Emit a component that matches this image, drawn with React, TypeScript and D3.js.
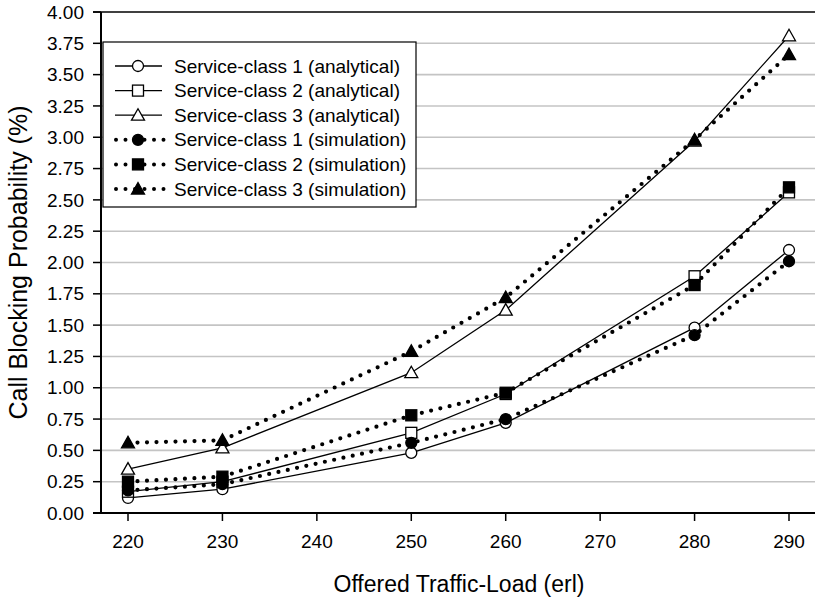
import React from 'react';
import * as d3 from 'd3';

// offered traffic-load (erl)
const loads = [220, 230, 250, 260, 280, 290];

// call blocking probability (%)
const analytical1 = [0.12, 0.19, 0.48, 0.72, 1.48, 2.10];
const analytical2 = [0.17, 0.25, 0.64, 0.95, 1.89, 2.56];
const analytical3 = [0.35, 0.52, 1.12, 1.62, 2.97, 3.81];
const simulation1 = [0.18, 0.23, 0.56, 0.75, 1.42, 2.01];
const simulation2 = [0.25, 0.29, 0.78, 0.96, 1.82, 2.60];
const simulation3 = [0.56, 0.58, 1.29, 1.72, 2.98, 3.66];

const xTicks = [220, 230, 240, 250, 260, 270, 280, 290];
const yTicks = d3.range(0, 4.001, 0.25);

const seriesList = [
  { name: 'Service-class 1 (analytical)', values: analytical1, shape: 'circle', filled: false, dotted: false },
  { name: 'Service-class 2 (analytical)', values: analytical2, shape: 'square', filled: false, dotted: false },
  { name: 'Service-class 3 (analytical)', values: analytical3, shape: 'triangle', filled: false, dotted: false },
  { name: 'Service-class 1 (simulation)', values: simulation1, shape: 'circle', filled: true, dotted: true },
  { name: 'Service-class 2 (simulation)', values: simulation2, shape: 'square', filled: true, dotted: true },
  { name: 'Service-class 3 (simulation)', values: simulation3, shape: 'triangle', filled: true, dotted: true },
];

const FONT = 'Arial, "Liberation Sans", sans-serif';

const left = 101;
const right = 815;
const top = 12;
const bottom = 513;

const x = d3.scaleLinear().domain([220, 290]).range([128, 789]);
const y = d3.scaleLinear().domain([0, 4]).range([bottom, top]);

const Marker = ({ cx, cy, shape, filled }: { cx: number; cy: number; shape: string; filled: boolean }) => {
  const fill = filled ? '#000' : '#fff';
  if (shape === 'circle') {
    return <circle cx={cx} cy={cy} r={5.5} fill={fill} stroke="#000" strokeWidth={1.3} />;
  }
  if (shape === 'square') {
    return <rect x={cx - 5.5} y={cy - 5.5} width={11} height={11} fill={fill} stroke="#000" strokeWidth={1.3} />;
  }
  const p = `M${cx},${cy - 6.5}L${cx + 6.5},${cy + 5}L${cx - 6.5},${cy + 5}Z`;
  return <path d={p} fill={fill} stroke="#000" strokeWidth={1.3} strokeLinejoin="miter" />;
};

export default function App() {
  const line = d3.line<number>()
    .x((_, i) => x(loads[i]))
    .y(d => y(d));

  const legendX = 103;
  const legendY = 42;
  const rowStart = 66;
  const rowGap = 24.6;

  return (
    <svg width={815} height={598} style={{ position: 'absolute', left: 0, top: 0, background: '#fff' }}>
      {/* grid */}
      {yTicks.filter(t => t > 0 && t < 4).map(t => (
        <line key={'g' + t} x1={left} x2={right} y1={y(t)} y2={y(t)} stroke="#c4c4c4" strokeWidth={1.6} />
      ))}
      <line x1={93} x2={right} y1={top} y2={top} stroke="#000" strokeWidth={1.5} />

      {/* axes */}
      <line x1={93} x2={right} y1={bottom} y2={bottom} stroke="#000" strokeWidth={2} />
      <line x1={left} x2={left} y1={top} y2={bottom + 1} stroke="#000" strokeWidth={2} />
      {yTicks.map(t => (
        <g key={'y' + t}>
          <line x1={93} x2={left} y1={y(t)} y2={y(t)} stroke="#000" strokeWidth={1.5} />
          <text x={84} y={y(t)} dy="0.35em" textAnchor="end" fontFamily={FONT} fontSize={19}>{t.toFixed(2)}</text>
        </g>
      ))}
      {xTicks.map(t => (
        <g key={'x' + t}>
          <line x1={x(t)} x2={x(t)} y1={bottom} y2={bottom + 8} stroke="#000" strokeWidth={1.5} />
          <text x={x(t)} y={548} textAnchor="middle" fontFamily={FONT} fontSize={19}>{t}</text>
        </g>
      ))}

      <text x={459} y={592} textAnchor="middle" fontFamily={FONT} fontSize={23}>Offered Traffic-Load (erl)</text>
      <text transform={`translate(27,${(top + bottom) / 2}) rotate(-90)`} textAnchor="middle" fontFamily={FONT} fontSize={25}>Call Blocking Probability (%)</text>

      {/* legend */}
      <rect x={legendX} y={legendY} width={313} height={165} fill="#fff" stroke="#000" strokeWidth={1.2} />
      {seriesList.map((s, i) => {
        const cy = rowStart + i * rowGap;
        return (
          <g key={'l' + i}>
            {s.dotted ? (
              <line x1={116} x2={164} y1={cy} y2={cy} stroke="#000" strokeWidth={4} strokeDasharray="0 9.5" strokeLinecap="round" />
            ) : (
              <line x1={115} x2={162} y1={cy} y2={cy} stroke="#000" strokeWidth={1.3} />
            )}
            <Marker cx={138} cy={cy} shape={s.shape} filled={s.filled} />
            <text x={174} y={cy} dy="0.35em" fontFamily={FONT} fontSize={19}>{s.name}</text>
          </g>
        );
      })}

      {/* series */}
      {seriesList.map((s, i) => (
        <g key={'s' + i}>
          {s.dotted ? (
            <path d={line(s.values) || ''} fill="none" stroke="#000" strokeWidth={4.2} strokeDasharray="0 9.5" strokeLinecap="round" />
          ) : (
            <path d={line(s.values) || ''} fill="none" stroke="#000" strokeWidth={1.3} />
          )}
          {s.values.map((v, j) => (
            <Marker key={j} cx={x(loads[j])} cy={y(v)} shape={s.shape} filled={s.filled} />
          ))}
        </g>
      ))}
    </svg>
  );
}
